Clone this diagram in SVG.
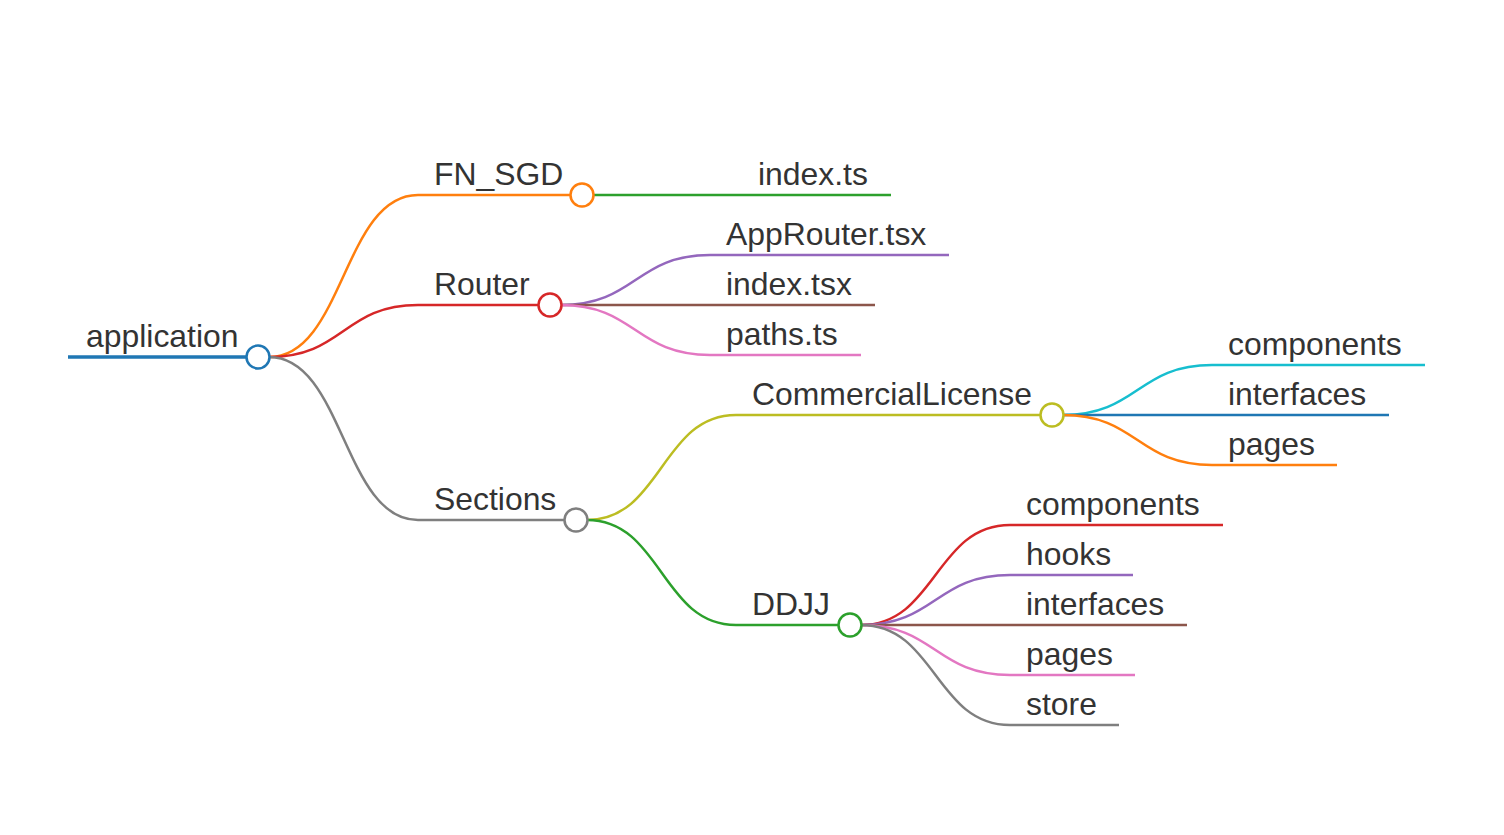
<svg xmlns="http://www.w3.org/2000/svg" width="1504" height="835" viewBox="0 0 1504 835">
<style>
text{font-family:"Liberation Sans",Arial,sans-serif;font-size:31.9px;fill:#333}
.l{fill:none;stroke-width:2.5;stroke-linecap:butt}
.c{fill:#fff;stroke-width:2.5}
</style>
<rect width="1504" height="835" fill="#fff"/>
<g id="connectors" class="conn">
<path class="l" stroke="#ff7f0e" d="M269,357 C343.5,357 343.5,195 418,195"/>
<path class="l" stroke="#d62728" d="M269,357 C343.5,357 343.5,305 418,305"/>
<path class="l" stroke="#7f7f7f" d="M269,357 C343.5,357 343.5,520 418,520"/>
<path class="l" stroke="#2ca02c" d="M593,195 L741,195"/>
<path class="l" stroke="#9467bd" d="M561,305 C635.5,305 635.5,255 710,255"/>
<path class="l" stroke="#8c564b" d="M561,305 L710,305"/>
<path class="l" stroke="#e377c2" d="M561,305 C635.5,305 635.5,355 710,355"/>
<path class="l" stroke="#bcbd22" d="M587,520 C661.5,520 661.5,415 736,415"/>
<path class="l" stroke="#2ca02c" d="M587,520 C661.5,520 661.5,625 736,625"/>
<path class="l" stroke="#17becf" d="M1063,415 C1137.5,415 1137.5,365 1212,365"/>
<path class="l" stroke="#1f77b4" d="M1063,415 L1212,415"/>
<path class="l" stroke="#ff7f0e" d="M1063,415 C1137.5,415 1137.5,465 1212,465"/>
<path class="l" stroke="#d62728" d="M861,625 C935.5,625 935.5,525 1010,525"/>
<path class="l" stroke="#9467bd" d="M861,625 C935.5,625 935.5,575 1010,575"/>
<path class="l" stroke="#8c564b" d="M861,625 L1010,625"/>
<path class="l" stroke="#e377c2" d="M861,625 C935.5,625 935.5,675 1010,675"/>
<path class="l" stroke="#7f7f7f" d="M861,625 C935.5,625 935.5,725 1010,725"/>
</g>
<g id="node-application">
<line x1="68" y1="357" x2="258" y2="357" stroke="#1f77b4" stroke-width="3.5"/>
<text x="86" y="347">application</text>
<circle class="c" cx="258" cy="357" r="11.5" stroke="#1f77b4"/>
</g>
<g id="node-fn_sgd">
<line class="l" x1="418" y1="195" x2="582" y2="195" stroke="#ff7f0e"/>
<text x="434" y="185">FN_SGD</text>
<circle class="c" cx="582" cy="195" r="11.5" stroke="#ff7f0e"/>
</g>
<g id="node-index-ts">
<line class="l" x1="741" y1="195" x2="891" y2="195" stroke="#2ca02c"/>
<text x="758" y="185">index.ts</text>
</g>
<g id="node-router">
<line class="l" x1="418" y1="305" x2="550" y2="305" stroke="#d62728"/>
<text x="434" y="295">Router</text>
<circle class="c" cx="550" cy="305" r="11.5" stroke="#d62728"/>
</g>
<g id="node-approuter">
<line class="l" x1="710" y1="255" x2="949" y2="255" stroke="#9467bd"/>
<text x="726" y="245">AppRouter.tsx</text>
</g>
<g id="node-index-tsx">
<line class="l" x1="710" y1="305" x2="875" y2="305" stroke="#8c564b"/>
<text x="726" y="295">index.tsx</text>
</g>
<g id="node-paths">
<line class="l" x1="710" y1="355" x2="861" y2="355" stroke="#e377c2"/>
<text x="726" y="345">paths.ts</text>
</g>
<g id="node-sections">
<line class="l" x1="418" y1="520" x2="576" y2="520" stroke="#7f7f7f"/>
<text x="434" y="510">Sections</text>
<circle class="c" cx="576" cy="520" r="11.5" stroke="#7f7f7f"/>
</g>
<g id="node-commerciallicense">
<line class="l" x1="736" y1="415" x2="1052" y2="415" stroke="#bcbd22"/>
<text x="752" y="405">CommercialLicense</text>
<circle class="c" cx="1052" cy="415" r="11.5" stroke="#bcbd22"/>
</g>
<g id="node-cl-components">
<line class="l" x1="1212" y1="365" x2="1425" y2="365" stroke="#17becf"/>
<text x="1228" y="355">components</text>
</g>
<g id="node-cl-interfaces">
<line class="l" x1="1212" y1="415" x2="1389" y2="415" stroke="#1f77b4"/>
<text x="1228" y="405">interfaces</text>
</g>
<g id="node-cl-pages">
<line class="l" x1="1212" y1="465" x2="1337" y2="465" stroke="#ff7f0e"/>
<text x="1228" y="455">pages</text>
</g>
<g id="node-ddjj">
<line class="l" x1="736" y1="625" x2="850" y2="625" stroke="#2ca02c"/>
<text x="752" y="615">DDJJ</text>
<circle class="c" cx="850" cy="625" r="11.5" stroke="#2ca02c"/>
</g>
<g id="node-dd-components">
<line class="l" x1="1010" y1="525" x2="1223" y2="525" stroke="#d62728"/>
<text x="1026" y="515">components</text>
</g>
<g id="node-dd-hooks">
<line class="l" x1="1010" y1="575" x2="1133" y2="575" stroke="#9467bd"/>
<text x="1026" y="565">hooks</text>
</g>
<g id="node-dd-interfaces">
<line class="l" x1="1010" y1="625" x2="1187" y2="625" stroke="#8c564b"/>
<text x="1026" y="615">interfaces</text>
</g>
<g id="node-dd-pages">
<line class="l" x1="1010" y1="675" x2="1135" y2="675" stroke="#e377c2"/>
<text x="1026" y="665">pages</text>
</g>
<g id="node-dd-store">
<line class="l" x1="1010" y1="725" x2="1119" y2="725" stroke="#7f7f7f"/>
<text x="1026" y="715">store</text>
</g>
</svg>
